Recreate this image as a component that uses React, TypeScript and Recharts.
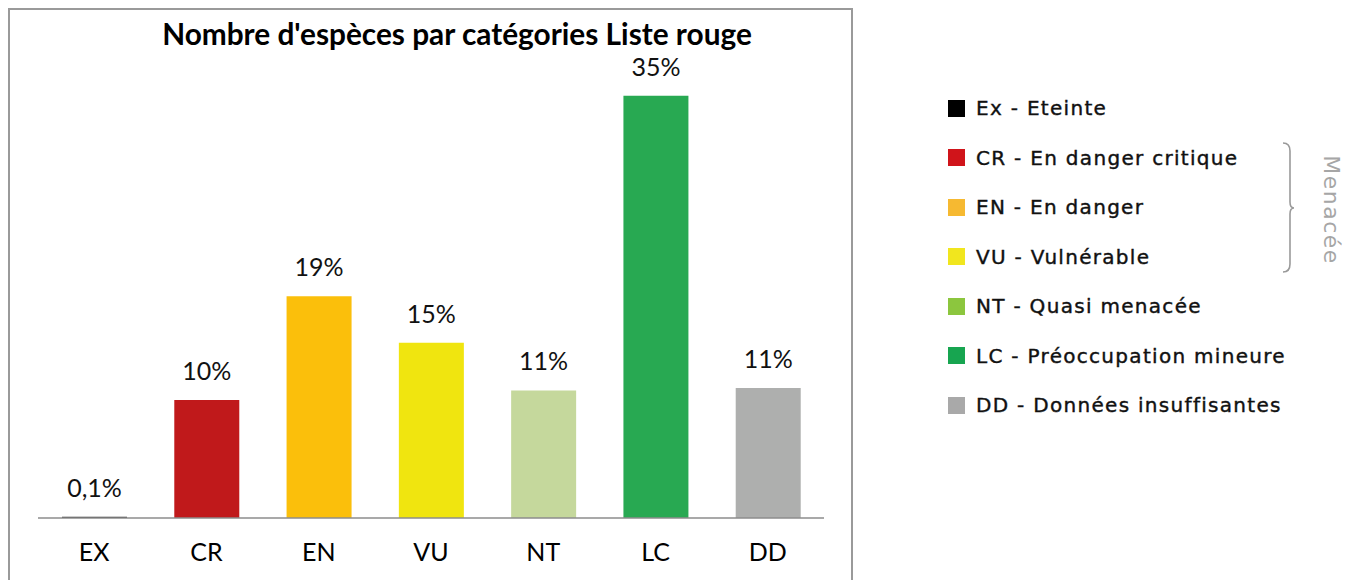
import { BarChart, Bar, XAxis, YAxis, Cell, LabelList } from "recharts";

const categories = ["EX", "CR", "EN", "VU", "NT", "LC", "DD"];
const shares = [0.1, 9.9, 18.6, 14.7, 10.7, 35.4, 10.9];
const barColors = ["#333333", "#c0191b", "#fbbf0b", "#f0e50f", "#c5d89c", "#28a952", "#aeafae"];

const legendLabels = [
  "Ex - Eteinte",
  "CR - En danger critique",
  "EN - En danger",
  "VU - Vulnérable",
  "NT - Quasi menacée",
  "LC - Préoccupation mineure",
  "DD - Données insuffisantes",
];
const legendColors = ["#000000", "#d0141a", "#f6b931", "#f1e61e", "#8cc63e", "#17a550", "#a9a9a9"];
const groupLabel = "Menacée";

const chartFont = "Lato, 'Open Sans', sans-serif";
const legendFont = "'DejaVu Sans', 'Open Sans', sans-serif";

const data = categories.map((cat, i) => ({ cat, share: shares[i] }));

const formatShare = (v: number) =>
  v < 1 ? String(v).replace(".", ",") + "%" : Math.round(v) + "%";

export default function App() {
  return (
    <div style={{ position: "relative", width: 1346, height: 572, overflow: "hidden" }}>
      <div
        style={{
          position: "absolute",
          left: 0,
          top: 0,
          width: 845,
          height: 580,
          boxSizing: "border-box",
          border: "2px solid #9a9a9a",
        }}
      />
      <div
        style={{
          position: "absolute",
          left: 0,
          width: 898,
          top: 8,
          textAlign: "center",
          fontFamily: chartFont,
          fontWeight: 700,
          fontSize: 29.8,
          color: "#000",
        }}
      >
        Nombre d'espèces par catégories Liste rouge
      </div>
      <div style={{ position: "absolute", left: 0, top: 0 }}>
        <BarChart
          width={845}
          height={572}
          data={data}
          margin={{ top: 33, right: 29, left: 30, bottom: 12 }}
        >
          <XAxis
            dataKey="cat"
            axisLine={{ stroke: "#8c8c8c", strokeWidth: 1.5 }}
            tickLine={false}
            tickMargin={19}
            height={50}
            interval={0}
            tick={{ fontSize: 25, fill: "#000", fontFamily: chartFont }}
          />
          <YAxis hide domain={[0, 40]} />
          <Bar dataKey="share" barSize={65} isAnimationActive={false}>
            {data.map((d, i) => (
              <Cell key={d.cat} fill={barColors[i]} />
            ))}
            <LabelList
              dataKey="share"
              position="top"
              offset={20}
              formatter={(v: any) => formatShare(Number(v))}
              style={{ fontSize: 25, fill: "#111", fontFamily: chartFont }}
            />
          </Bar>
        </BarChart>
      </div>

      {legendLabels.map((label, i) => (
        <div
          key={label}
          style={{
            position: "absolute",
            left: 940,
            top: 100 + i * 49.5 - 14,
            height: 28,
            display: "flex",
            alignItems: "center",
            fontFamily: legendFont,
            fontSize: 20,
            letterSpacing: 1.3,
            color: "#111",
            WebkitTextStroke: "0.4px #111",
            whiteSpace: "nowrap",
          }}
        >
          <span
            style={{
              display: "inline-block",
              width: 17,
              height: 17,
              background: legendColors[i],
              marginRight: 11,
            }}
          />
          {label}
        </div>
      ))}

      <svg
        style={{ position: "absolute", left: 1266, top: 128 }}
        width={80}
        height={150}
      >
        <path
          d="M9 7 Q16 7 16 15 L16 66 Q16 72 20 72 Q16 72 16 78 L16 128 Q16 136 9 136"
          fill="none"
          stroke="#9a9a9a"
          strokeWidth={1.6}
        />
        <text
          x={57}
          y={74}
          transform="rotate(90 57 74)"
          textAnchor="middle"
          dominantBaseline="central"
          fontFamily={legendFont}
          fontSize={22}
          letterSpacing={1.5}
          fill="#a6a6a6"
        >
          {groupLabel}
        </text>
      </svg>
    </div>
  );
}
